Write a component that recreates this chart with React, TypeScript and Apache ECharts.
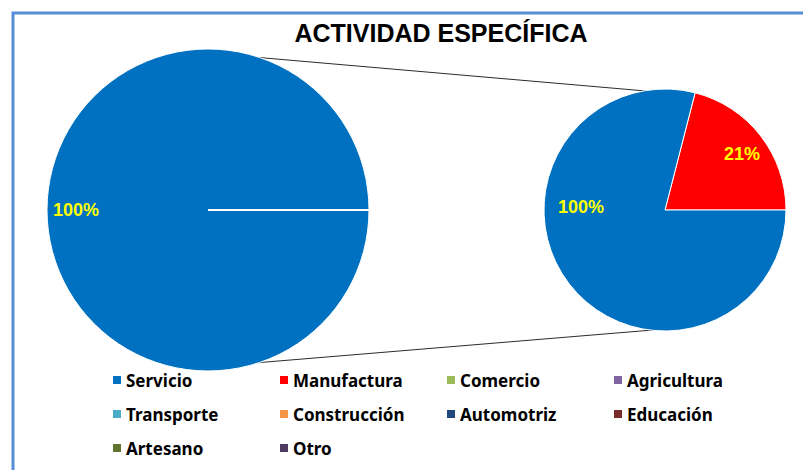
import React, { useEffect, useRef } from "react";
import * as echarts from "echarts";

const titleText = "ACTIVIDAD ESPECÍFICA";

const categories = [
  "Servicio",
  "Manufactura",
  "Comercio",
  "Agricultura",
  "Transporte",
  "Construcción",
  "Automotriz",
  "Educación",
  "Artesano",
  "Otro",
];
const categoryColors = [
  "#0070C0",
  "#FF0000",
  "#9BBB59",
  "#8064A2",
  "#4BACC6",
  "#F79646",
  "#1F497D",
  "#772C2A",
  "#5F7530",
  "#4D3B62",
];

// main (left) pie
const mainValues = [100, 0, 0, 0, 0, 0, 0, 0, 0, 0];
const mainLabels = ["100%", "", "", "", "", "", "", "", "", ""];

// secondary (right) pie
const secondaryCategories = ["Manufactura", "Servicio"];
const secondaryValues = [21, 79];
const secondaryLabels = ["21%", "100%"];

const colorOf = (name: string) => categoryColors[categories.indexOf(name)];

export default function App() {
  const ref = useRef<HTMLDivElement>(null);

  useEffect(() => {
    document.body.style.margin = "0";
    if (!ref.current) return;
    const chart = echarts.init(ref.current, undefined, { renderer: "svg" });

    const secTotal = secondaryValues.reduce((a, b) => a + b, 0);
    const secStart = (360 * secondaryValues[0]) / secTotal;

    const mainLabelPos: Record<number, [number, number]> = { 0: [76, 210] };
    const secLabelPos: Record<number, [number, number]> = {
      0: [742, 154],
      1: [581, 207],
    };
    const makeLayout = (pos: Record<number, [number, number]>) => (params: any) => {
      const p = pos[params.dataIndex];
      if (!p) return {};
      return { x: p[0], y: p[1], align: "center", verticalAlign: "middle" };
    };

    const labelStyle = {
      show: true,
      position: "inside" as const,
      color: "#FFFF00",
      fontFamily: "Liberation Sans",
      fontWeight: "bold" as const,
      fontSize: 18,
    };

    chart.setOption({
      animation: false,
      backgroundColor: "#ffffff",
      title: {
        text: titleText,
        left: 436,
        top: 15,
        textAlign: "center",
        textStyle: {
          fontFamily: "Liberation Sans",
          fontWeight: "bold",
          fontSize: 25,
          color: "#000000",
        },
      },
      legend: {
        data: categories,
        left: 113,
        top: 365,
        width: 690,
        orient: "horizontal",
        padding: 0,
        itemWidth: 8,
        itemHeight: 8,
        itemGap: 4,
        icon: "rect",
        selectedMode: false,
        itemStyle: { borderWidth: 0 },
        textStyle: {
          fontFamily: "Noto Sans",
          fontWeight: "bold",
          fontSize: 17,
          color: "#000000",
          width: 150,
          lineHeight: 30,
        },
      },
      graphic: [
        {
          type: "rect",
          z: 1,
          shape: { x: 13, y: 13, width: 900, height: 600 },
          style: { fill: "none", stroke: "#558ED5", lineWidth: 3 },
        },
        {
          type: "line",
          z: 1,
          shape: { x1: 230, y1: 55, x2: 692, y2: 95 },
          style: { stroke: "#2b2b2b", lineWidth: 1 },
        },
        {
          type: "line",
          z: 1,
          shape: { x1: 230, y1: 365, x2: 665, y2: 329 },
          style: { stroke: "#2b2b2b", lineWidth: 1 },
        },
      ],
      series: [
        {
          type: "pie",
          z: 3,
          silent: true,
          center: [208, 210],
          radius: 161,
          startAngle: 0,
          clockwise: true,
          avoidLabelOverlap: false,
          itemStyle: { borderColor: "#ffffff", borderWidth: 1 },
          label: { ...labelStyle, formatter: (p: any) => mainLabels[p.dataIndex] },
          labelLine: { show: false },
          labelLayout: makeLayout(mainLabelPos),
          emphasis: { disabled: true },
          data: categories.map((name, i) => ({
            name,
            value: mainValues[i],
            itemStyle: { color: categoryColors[i] },
            label: { show: mainLabels[i] !== "" },
          })),
        },
        {
          type: "pie",
          z: 3,
          silent: true,
          center: [665, 210],
          radius: 121,
          startAngle: secStart,
          clockwise: true,
          avoidLabelOverlap: false,
          itemStyle: { borderColor: "#ffffff", borderWidth: 1 },
          label: { ...labelStyle, formatter: (p: any) => secondaryLabels[p.dataIndex] },
          labelLine: { show: false },
          labelLayout: makeLayout(secLabelPos),
          emphasis: { disabled: true },
          data: secondaryCategories.map((name, i) => ({
            name,
            value: secondaryValues[i],
            itemStyle: { color: colorOf(name) },
          })),
        },
      ],
    });

    return () => chart.dispose();
  }, []);

  return <div ref={ref} style={{ width: 803, height: 470 }} />;
}
